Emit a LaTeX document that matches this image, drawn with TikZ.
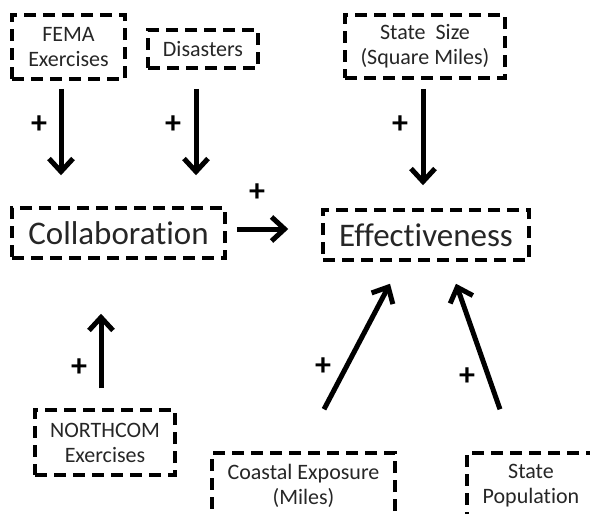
\documentclass[tikz,border=0pt]{standalone}
\usepackage{fontspec}
\setmainfont{Carlito}[Ligatures={NoCommon,NoRequired,NoContextual}]
\usetikzlibrary{arrows.meta,calc}
\begin{document}
\begin{tikzpicture}[x=1pt,y=-1pt,
 box/.style={draw, line width=3.5pt, dash pattern=on 12pt off 7pt, inner sep=0pt, align=center, text=black!85},
 small/.style={font=\fontsize{22}{25}\selectfont},
 big/.style={font=\fontsize{33}{38}\selectfont},
 arr/.style={line width=5pt, -{Straight Barb[length=13pt,width=24pt]}},
 plus/.style={font=\fontsize{32}{32}\selectfont\bfseries, inner sep=0pt}]
\useasboundingbox (0,0) rectangle (590,514);
\node[box,small,minimum width=113pt,minimum height=64pt] (fema) at (68.5,47) {FEMA\\Exercises};
\node[box,small,minimum width=110pt,minimum height=38pt] (dis) at (203,49) {Disasters};
\node[box,small,minimum width=160pt,minimum height=63pt] (state) at (425,46.5) {State~~Size\\(Square Miles)};
\node[box,big,minimum width=213pt,minimum height=50pt] (collab) at (118.5,233) {Collaboration};
\node[box,big,minimum width=206pt,minimum height=50pt] (eff) at (426,235) {Effectiveness};
\node[box,small,minimum width=140pt,minimum height=65pt] (north) at (105,442.5) {NORTHCOM\\Exercises};
\node[box,small,minimum width=183pt,minimum height=65pt] (coast) at (303.5,485.5) {Coastal Exposure\\(Miles)};
\node[box,small,minimum width=128pt,minimum height=65pt] (pop) at (531,485.5) {State\\Population};

\draw[arr, shorten >=31pt] ($(fema.south)+(-7.5,8)$) coordinate (a1) -- (a1 |- collab.north);
\draw[arr, shorten >=31pt] ($(dis.south)+(-7,19)$) coordinate (a2) -- (a2 |- collab.north);
\draw[arr, shorten >=23pt] ($(state.south)+(-2,9)$) coordinate (a3) -- (a3 |- eff.north);
\draw[arr, shorten >=33pt] ($(collab.east)+(10,-4)$) coordinate (a4) -- (a4 -| eff.west);
\draw[arr, shorten >=54pt] ($(north.north)+(-4,-20)$) coordinate (a5) -- (a5 |- collab.south);
\draw[arr] ($(coast.north)+(20.5,-42)$) -- ($(eff.south)+(-36,22)$);
\draw[arr] ($(pop.north)+(-31,-42)$) -- ($(eff.south)+(30,22)$);

\node[plus] (p1) at (39,125) {+};
\node[plus] (p2) at (173,125) {+};
\node[plus] (p3) at (400,125) {+};
\node[plus] (p4) at (257,193) {+};
\node[plus] (p5) at (79,368) {+};
\node[plus] (p6) at (323,367) {+};
\node[plus] (p7) at (467,377) {+};
\end{tikzpicture}
\end{document}
